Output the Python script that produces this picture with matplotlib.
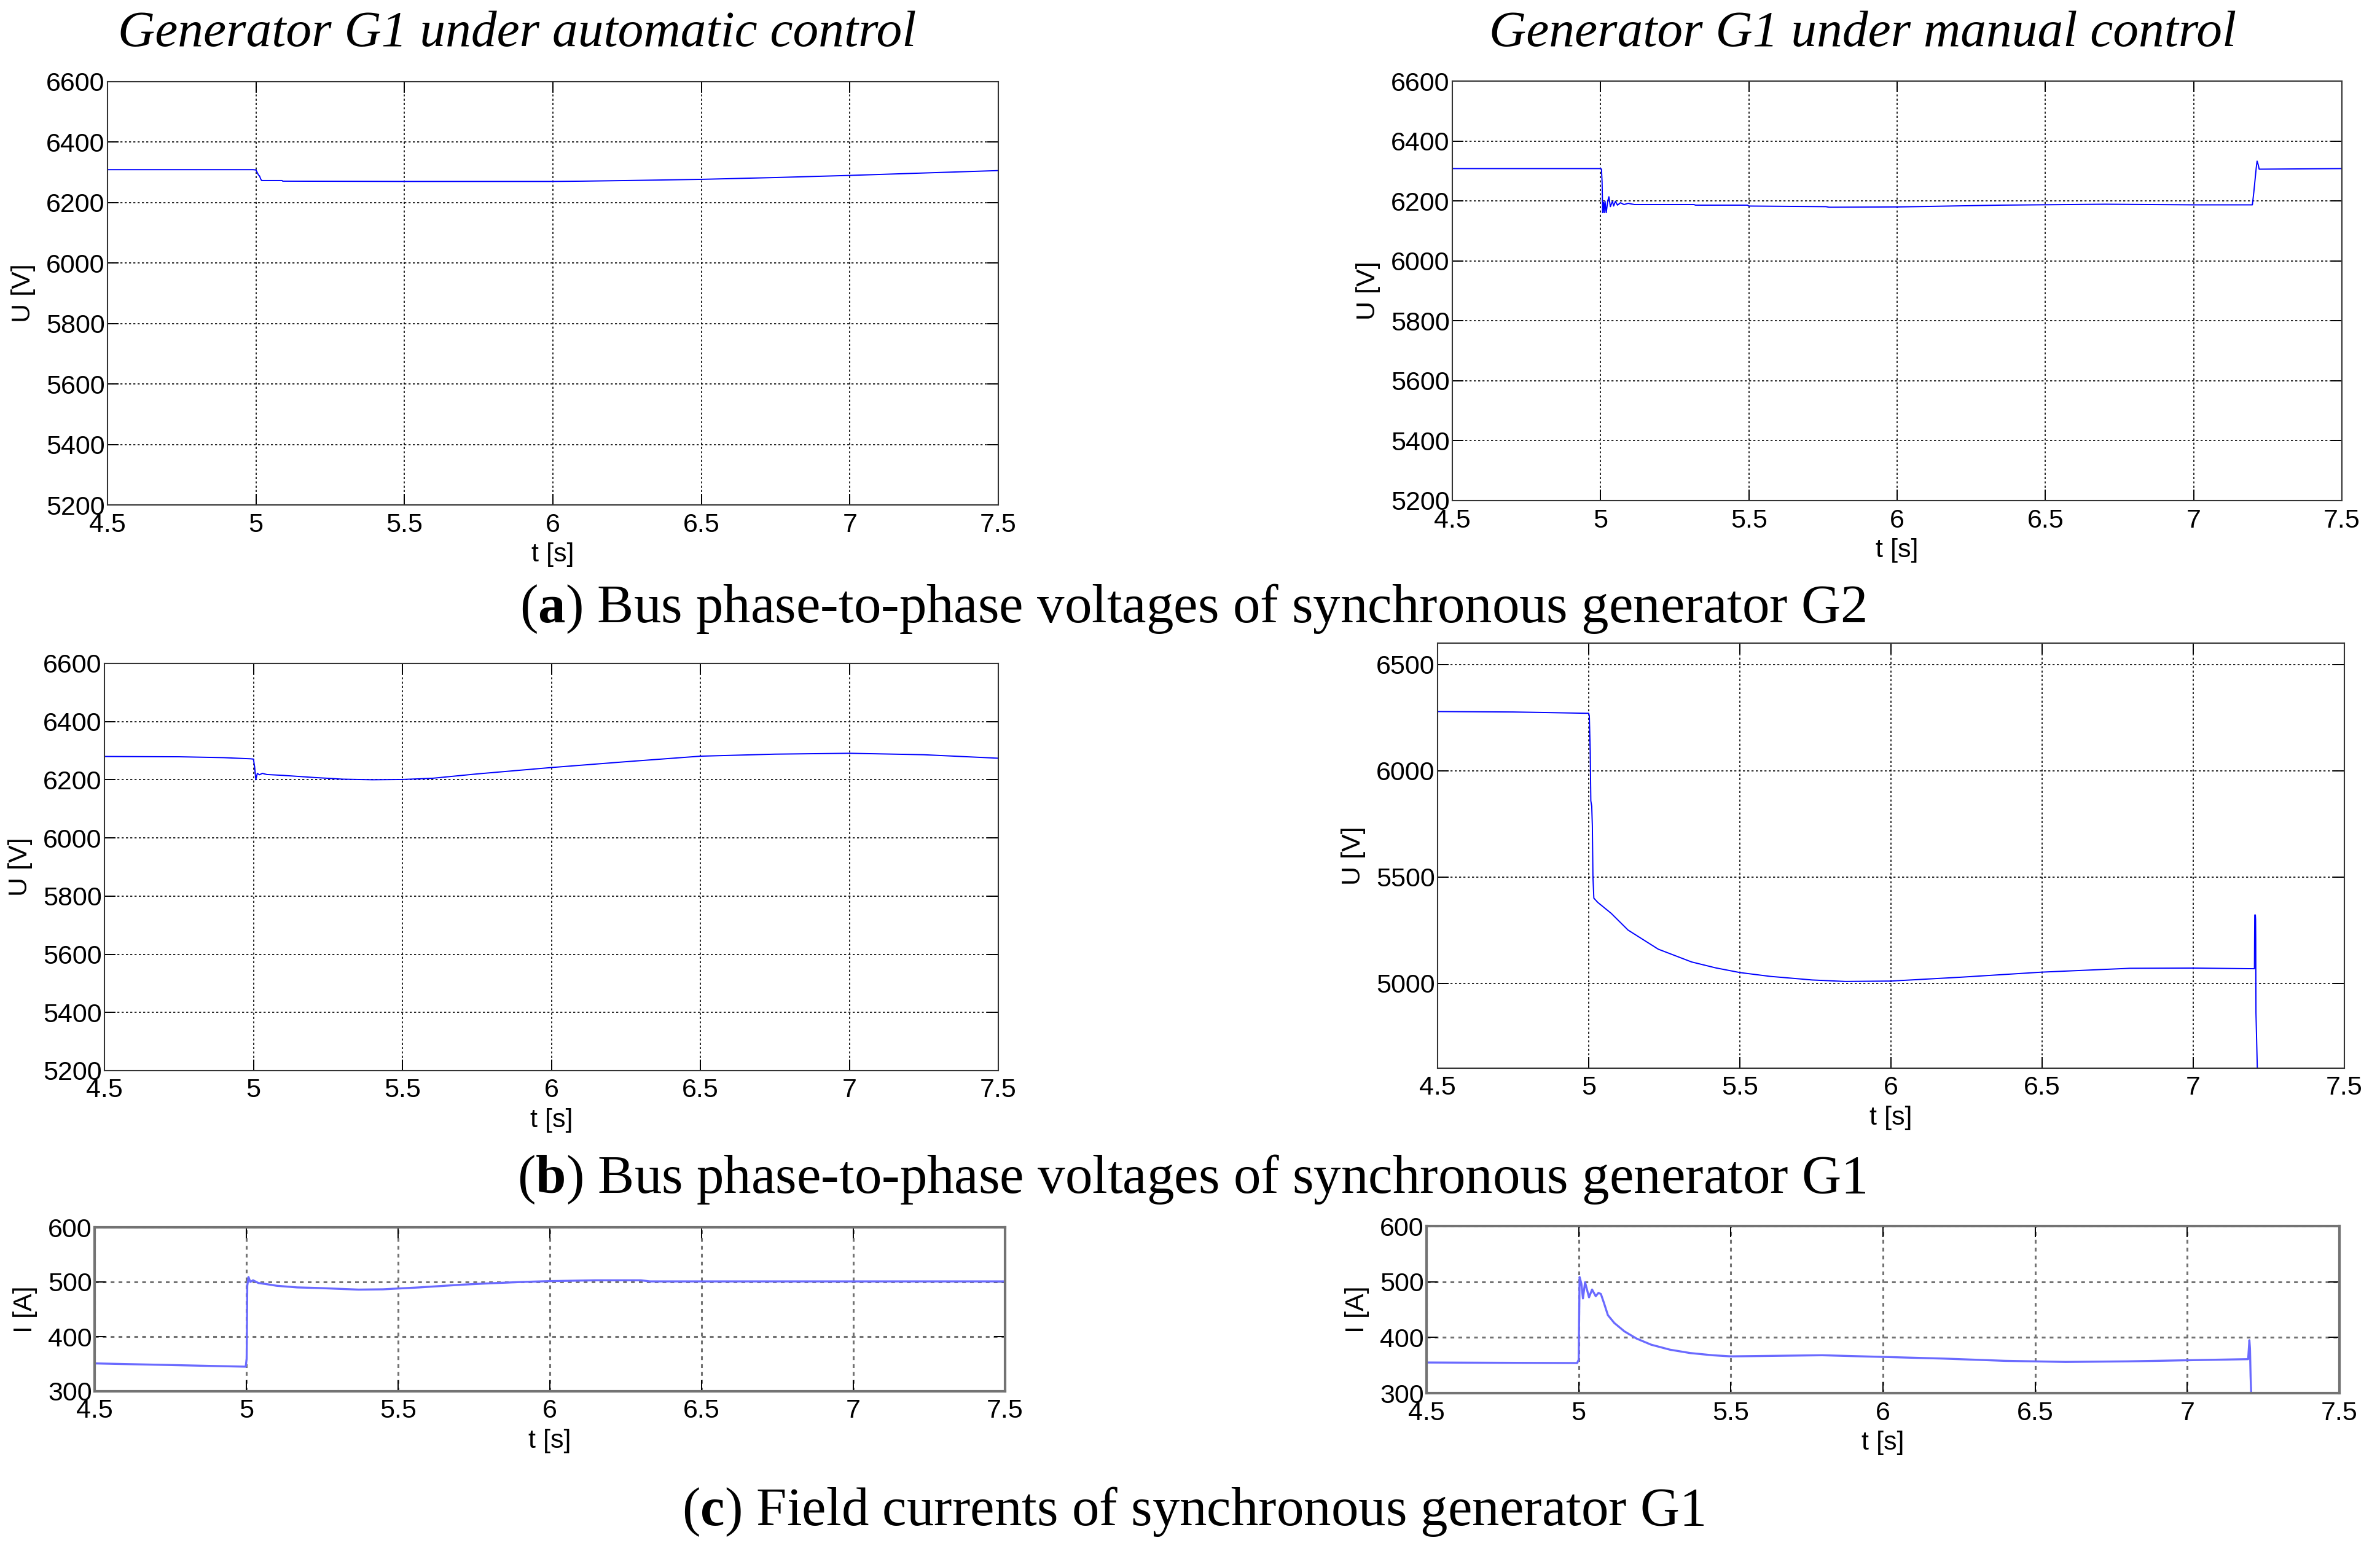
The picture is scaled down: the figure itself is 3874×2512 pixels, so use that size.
import numpy as np
import matplotlib
matplotlib.use('Agg')
import matplotlib.pyplot as plt

plt.rcParams['font.family'] = 'Liberation Sans'
plt.rcParams['mathtext.fontset'] = 'custom'
plt.rcParams['mathtext.rm'] = 'Liberation Serif'
plt.rcParams['mathtext.bf'] = 'Liberation Serif:bold'

# ---- data ----
x_ticks = [4.5, 5, 5.5, 6, 6.5, 7, 7.5]
x_tick_labels = ['4.5', '5', '5.5', '6', '6.5', '7', '7.5']

# (a) bus voltage G2, automatic control
t_a_auto = [4.5, 4.99, 5.0, 5.004, 5.008, 5.012, 5.016, 5.019, 5.088, 5.09,
            5.5, 6.0, 6.1, 6.25, 6.5, 6.75, 7.0, 7.25, 7.5]
u_a_auto = [6309, 6309, 6308, 6300, 6292, 6288, 6278, 6273, 6273, 6271,
            6270, 6270, 6271, 6273, 6277, 6283, 6290, 6298, 6306]

# (a) bus voltage G2, manual control
t_a_man = [4.5, 5.0, 5.003, 5.005, 5.007, 5.01, 5.0125, 5.015, 5.019, 5.024,
           5.028, 5.033, 5.04, 5.044, 5.05, 5.057, 5.067, 5.079, 5.093, 5.114,
           5.315, 5.32, 5.495, 5.5, 5.76, 5.77, 6.0, 6.35, 6.7, 7.0,
           7.198, 7.203, 7.207, 7.211, 7.214, 7.218, 7.221, 7.5]
u_a_man = [6308, 6308, 6306, 6264, 6161, 6195, 6161, 6199, 6161, 6199,
           6214, 6181, 6199, 6183, 6199, 6186, 6194, 6188, 6192, 6188,
           6188, 6186, 6186, 6183, 6181, 6179, 6180, 6186, 6189, 6187,
           6187, 6230, 6270, 6310, 6333, 6320, 6306, 6308]

# (b) bus voltage G1, automatic control
t_b_auto = [4.5, 4.75, 4.9, 4.99, 5.0, 5.004, 5.008, 5.013, 5.02, 5.03,
            5.045, 5.1, 5.2, 5.3, 5.4, 5.5, 5.6, 5.75, 6.0, 6.25,
            6.5, 6.75, 7.0, 7.25, 7.5]
u_b_auto = [6280, 6279, 6276, 6272, 6271, 6245, 6200, 6222, 6217, 6222,
            6218, 6215, 6208, 6202, 6200, 6201, 6205, 6220, 6242, 6262,
            6281, 6288, 6291, 6286, 6274]

# (b) bus voltage G1, manual control
t_b_man = [4.5, 4.75, 4.99, 5.0, 5.002, 5.005, 5.007, 5.01, 5.012, 5.014,
           5.017, 5.03, 5.074, 5.13, 5.23, 5.34, 5.42, 5.5, 5.6, 5.74,
           5.85, 6.0, 6.23, 6.5, 6.79, 7.0, 7.2025, 7.203, 7.2035, 7.2055,
           7.2063, 7.2068, 7.2075, 7.212, 7.213]
u_b_man = [6278, 6276, 6270, 6270, 6258, 6090, 5858, 5832, 5740, 5500,
           5400, 5380, 5329, 5250, 5160, 5100, 5072, 5050, 5032, 5015,
           5008, 5010, 5028, 5052, 5070, 5071, 5068, 5210, 5321, 5321,
           5300, 5210, 4860, 4600, 4300]

# (c) field current G1, automatic control
t_c_auto = [4.5, 4.75, 4.998, 5.001, 5.002, 5.003, 5.007, 5.013, 5.022, 5.04,
            5.066, 5.1, 5.167, 5.234, 5.3, 5.37, 5.45, 5.5, 5.57, 5.71,
            5.81, 5.91, 6.0, 6.15, 6.3, 6.33, 6.5, 7.0, 7.5]
i_c_auto = [351, 348, 345, 360, 420, 493, 509, 500, 503, 498,
            496, 493, 490, 489, 487.5, 486, 486.5, 488, 490, 495,
            497.7, 500, 501.5, 503, 503, 501, 501, 501, 501]

# (c) field current G1, manual control
t_c_man = [4.5, 4.995, 5.0, 5.003, 5.009, 5.014, 5.021, 5.034, 5.044, 5.056,
           5.065, 5.073, 5.083, 5.096, 5.117, 5.15, 5.19, 5.238, 5.3, 5.366,
           5.44, 5.5, 5.8, 6.0, 6.2, 6.4, 6.6, 6.8, 7.0, 7.2,
           7.204, 7.206, 7.208, 7.21]
i_c_man = [355, 354, 360, 508.5, 496, 470, 499, 472, 486, 474,
           480, 478, 462, 440, 426, 411, 398, 387, 378, 372,
           368, 366, 368, 365, 362, 358, 356, 357, 359, 361,
           395, 380, 330, 300]

W, H = 3874, 2512
fig = plt.figure(figsize=(W / 100, H / 100), dpi=100)


def make_axes(left, right, top, bottom):
    return fig.add_axes([left / W, 1 - bottom / H, (right - left) / W, (bottom - top) / H])


def style_axes(ax, ylim, yticks, ylabel, blurred=False):
    ax.set_xlim(4.5, 7.5)
    ax.set_ylim(*ylim)
    ax.set_xticks(x_ticks)
    ax.set_xticklabels(x_tick_labels)
    ax.set_yticks(yticks)
    ax.set_yticklabels([str(v) for v in yticks])
    grid_color = '0.45' if blurred else 'black'
    grid_lw = 2.2 if blurred else 1.2
    ax.grid(True, color=grid_color, linestyle=(0, (2, 2.2)), linewidth=grid_lw)
    for sp in ax.spines.values():
        sp.set_color('0.45' if blurred else '0.2')
        sp.set_linewidth(3.0 if blurred else 1.5)
    ax.tick_params(direction='in', length=13, width=1.4, top=True, right=True,
                   labelsize=31, colors='black')
    ax.tick_params(axis='x', pad=9)
    ax.tick_params(axis='y', pad=3)
    ax.set_xlabel('t [s]', fontsize=31, labelpad=6)
    ax.set_ylabel(ylabel, fontsize=31, labelpad=12)


u_ticks = [5200, 5400, 5600, 5800, 6000, 6200, 6400, 6600]
blue = '#0000ff'
light_blue = '#6a6aff'

ax1 = make_axes(175, 1625, 133, 822)
ax1.plot(t_a_auto, u_a_auto, color=blue, lw=1.4)
style_axes(ax1, (5200, 6600), u_ticks, 'U [V]')

ax2 = make_axes(2364, 3812, 132, 815)
ax2.plot(t_a_man, u_a_man, color=blue, lw=1.4)
style_axes(ax2, (5200, 6600), u_ticks, 'U [V]')

ax3 = make_axes(170, 1625, 1080, 1743)
ax3.plot(t_b_auto, u_b_auto, color=blue, lw=1.4)
style_axes(ax3, (5200, 6600), u_ticks, 'U [V]')

ax4 = make_axes(2340, 3816, 1047, 1739)
ax4.plot(t_b_man, u_b_man, color=blue, lw=1.4)
style_axes(ax4, (4600, 6600), [5000, 5500, 6000, 6500], 'U [V]')

ax5 = make_axes(154, 1636, 1998, 2265)
ax5.plot(t_c_auto, i_c_auto, color=light_blue, lw=2.4)
style_axes(ax5, (300, 600), [300, 400, 500, 600], 'I [A]', blurred=True)

ax6 = make_axes(2322, 3808, 1996, 2268)
ax6.plot(t_c_man, i_c_man, color=light_blue, lw=2.4)
style_axes(ax6, (300, 600), [300, 400, 500, 600], 'I [A]', blurred=True)

# column titles
fig.text(842 / W, 1 - 55 / H, 'Generator G1 under automatic control', ha='center', va='center',
         fontsize=60, family='Liberation Serif', style='italic')
fig.text(3032 / W, 1 - 55 / H, 'Generator G1 under manual control', ha='center', va='center',
         fontsize=60, family='Liberation Serif', style='italic')

# captions
cap_kw = dict(ha='center', va='center', fontsize=64, family='Liberation Serif')
fig.text(1942 / W, 1 - 991 / H, r'($\mathbf{a}$) Bus phase-to-phase voltages of synchronous generator G2', **cap_kw)
fig.text(1940 / W, 1 - 1920 / H, r'($\mathbf{b}$) Bus phase-to-phase voltages of synchronous generator G1', **cap_kw)
fig.text(1942 / W, 1 - 2461 / H, r'($\mathbf{c}$) Field currents of synchronous generator G1', **cap_kw)

fig.savefig('out.png', dpi=100, facecolor='white')
